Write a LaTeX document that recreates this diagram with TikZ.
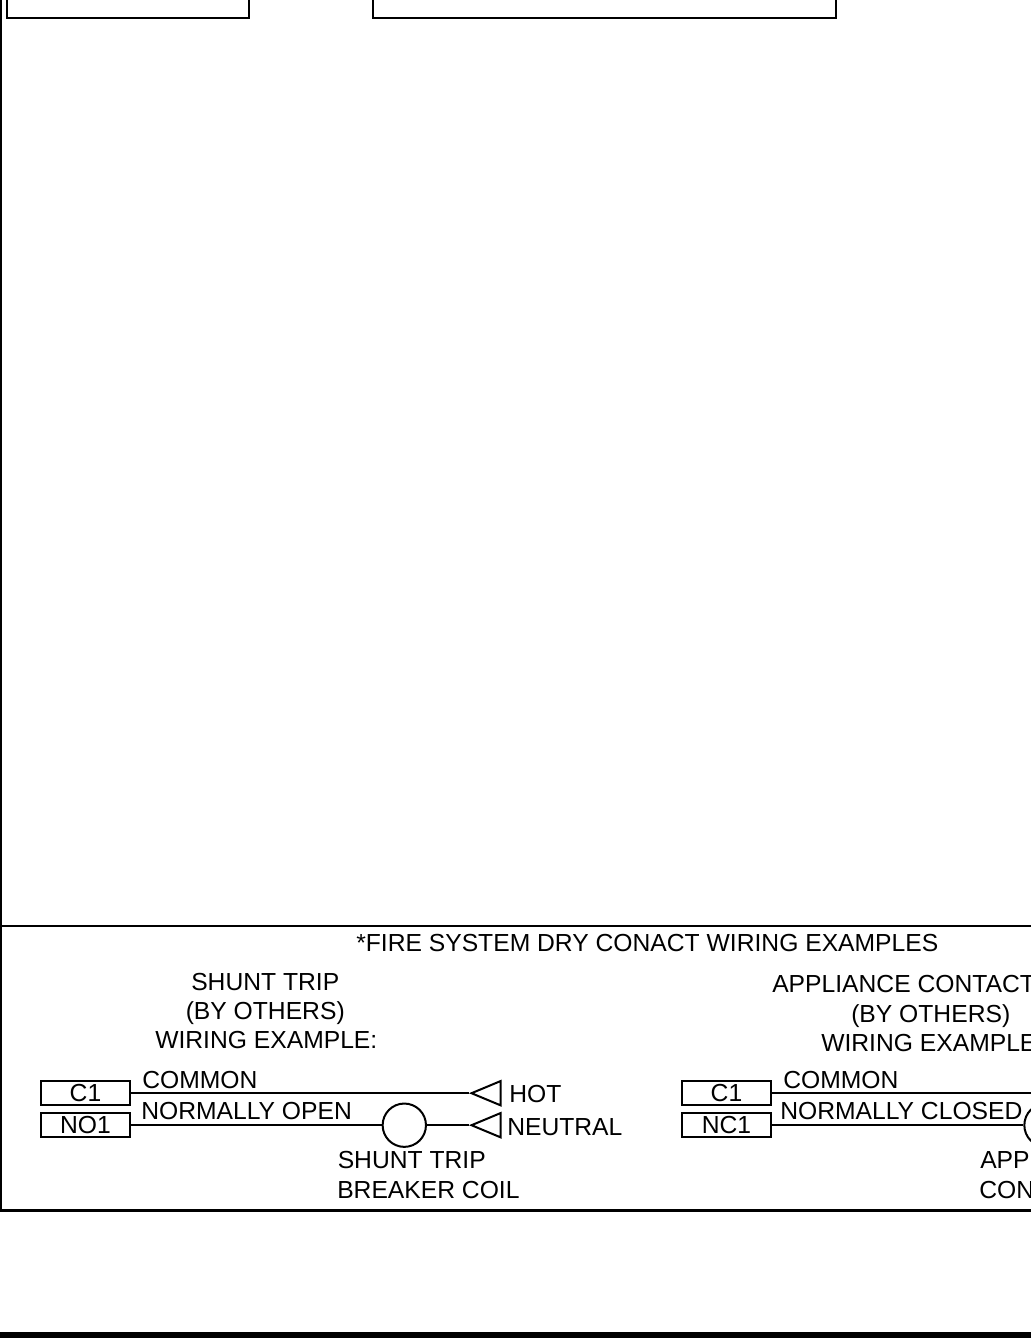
\documentclass[tikz,border=0pt]{standalone}
\usepackage{fontspec}
\setmainfont{Liberation Sans}
\usetikzlibrary{shapes.geometric}
\tikzset{
    lbl/.style={font=\fontsize{18.5}{22}\selectfont, inner sep=0pt, anchor=base west},
    term/.style={draw, line width=1.5pt, font=\fontsize{18.5}{22}\selectfont, inner sep=0pt,
        minimum width=66.5pt, minimum height=18.2pt},
    coilc/.style={circle, draw, line width=1.5pt, inner sep=0pt, minimum size=32.5pt},
    feed/.style={isosceles triangle, isosceles triangle stretches, shape border rotate=180,
        draw, line width=1.5pt, inner sep=0pt, minimum width=18.2pt, minimum height=21.8pt},
    wire/.style={line width=1.5pt},
    frame/.style={line width=2pt}
}
\begin{document}
\begin{tikzpicture}[x=0.75pt, y=-0.75pt]
    \useasboundingbox (0,0) rectangle (1031,1338);
    \clip (0,0) rectangle (1031,1338);
    % outer frame and the two boxes above
    \draw [frame] (1,-10) -- (1,1210.7) -- (1045,1210.7);
    \draw [frame] (1,926) -- (1045,926);
    \draw [wire] (7,-10) -- (7,18) -- (249,18) -- (249,-10);
    \draw [wire] (373,-10) -- (373,18) -- (836,18) -- (836,-10);
    \fill (0,1332) rectangle (1031,1338);
    % heading
    \node [lbl] (head) at (356,951.7) {*FIRE SYSTEM DRY CONACT WIRING EXAMPLES};
    % shunt trip example
    \node [lbl] (sa) at (191,990) {SHUNT TRIP};
    \node [lbl] (sb) at (185.5,1019) {(BY OTHERS)};
    \node [lbl] (sc) at (155,1048.7) {WIRING EXAMPLE:};
    \node [term] (c1) at (85.5,1093.2) {C1};
    \node [term] (no1) at (85.5,1125.2) {NO1};
    \node [coilc] (coil) at (404.3,1125.2) {};
    \node [feed] (hot) at (492.5,1093.2) {};
    \node [feed] (neut) at (492.5,1125.2) {};
    \draw [wire] (c1.east) -- (hot.apex);
    \draw [wire] (no1.east) -- (coil.west);
    \draw [wire] (coil.east) -- (neut.apex);
    \node [lbl] (com) at (142,1088) {COMMON};
    \node [lbl] (nopen) at (141,1119) {NORMALLY OPEN};
    \node [lbl] (thot) at (509,1102.7) {HOT};
    \node [lbl] (tneut) at (507,1135) {NEUTRAL};
    \node [lbl] (ta) at (337.5,1168) {SHUNT TRIP};
    \node [lbl] (tb) at (337,1198) {BREAKER COIL};
    % appliance example
    \node [lbl] (aa) at (772,992.7) {APPLIANCE CONTACT};
    \node [lbl] (ab) at (851,1022) {(BY OTHERS)};
    \node [lbl] (ac) at (821,1051) {WIRING EXAMPLE};
    \node [term] (c2) at (726.5,1093.2) {C1};
    \node [term] (nc1) at (726.5,1125.2) {NC1};
    \node [coilc] (acoil) at (1046,1125.2) {};
    \coordinate (aend) at (1045,1093.2);
    \draw [wire] (c2.east) -- (aend);
    \draw [wire] (nc1.east) -- (acoil.west);
    \node [lbl] (acom) at (783,1088) {COMMON};
    \node [lbl] (nclosed) at (780,1119) {NORMALLY CLOSED};
    \node [lbl] (ad) at (980,1168) {APP};
    \node [lbl] (ae) at (979,1198) {CON};
\end{tikzpicture}
\end{document}
